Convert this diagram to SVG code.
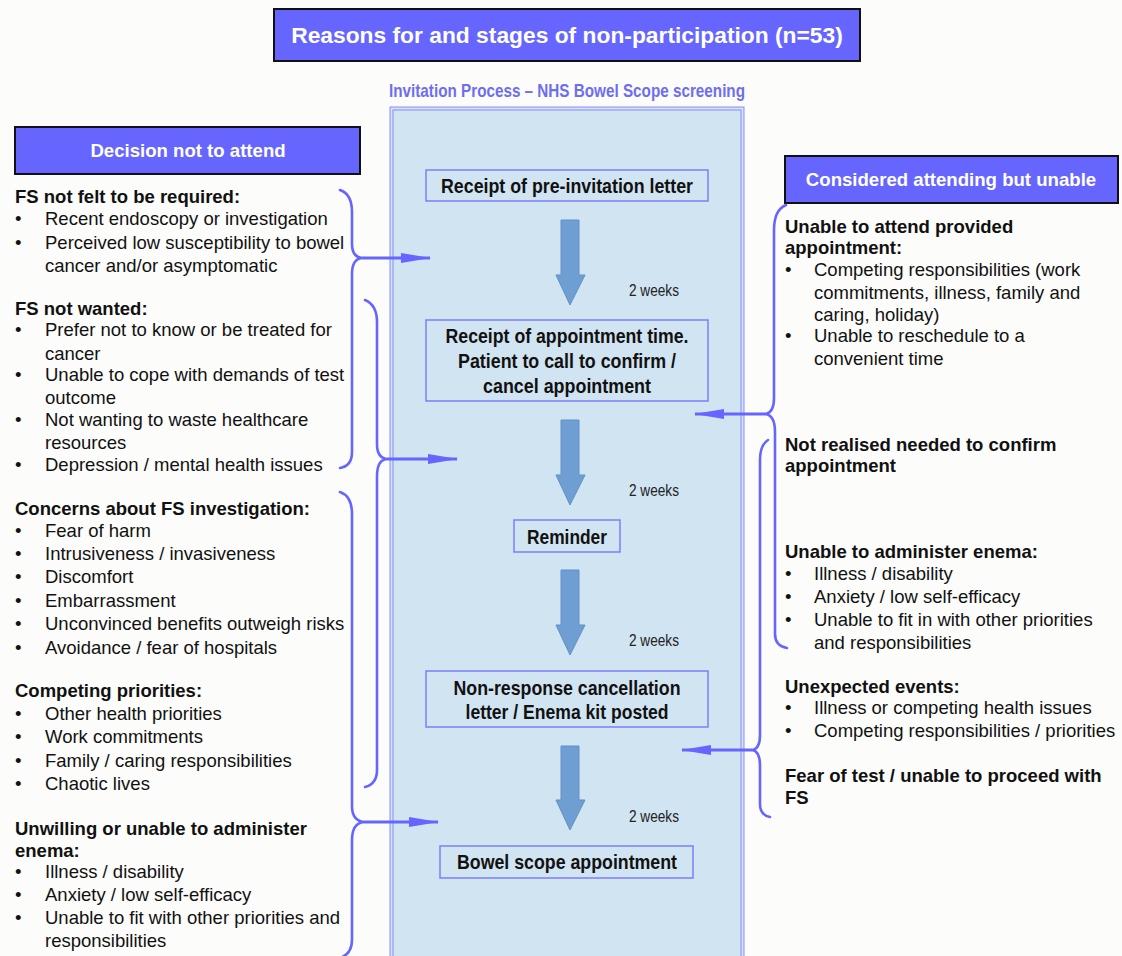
<svg xmlns="http://www.w3.org/2000/svg" width="1122" height="956" viewBox="0 0 1122 956">
<defs>
<style>
.bg{fill:#fcfcfb}
.hdr{fill:#6666ff;stroke:#111;stroke-width:2}
.hdrt{font-family:"Liberation Sans",Arial,sans-serif;font-weight:bold;fill:#fff;text-anchor:middle}
.t{font-family:"Liberation Sans",Arial,sans-serif;font-size:18.5px;fill:#111}
.b{font-weight:bold}
.node{fill:none;stroke:#7d7dff;stroke-width:1.5}
.nt{font-family:"Liberation Sans Narrow","Liberation Sans",Arial,sans-serif;font-weight:bold;font-size:21px;fill:#111;text-anchor:middle}
.wk{font-family:"Liberation Sans Narrow","Liberation Sans",Arial,sans-serif;font-size:16px;fill:#222}
.down{fill:#6f9ed3;stroke:#6090c8;stroke-width:1}
.brace{fill:none;stroke:#6666ff;stroke-width:2.6;stroke-linecap:round}
.conn{fill:none;stroke:#6666ff;stroke-width:3}
</style>
<marker id="ah" viewBox="0 0 30 10" refX="29" refY="5" markerWidth="10" markerHeight="3.4" orient="auto">
<path d="M0,0 L30,5 L0,10 z" fill="#6666ff"/>
</marker>
</defs>
<rect class="bg" x="0" y="0" width="1122" height="956"/>

<g id="title">
<rect class="hdr" x="274" y="9" width="586" height="52"/>
<text class="hdrt" x="567" y="43" font-size="22.8">Reasons for and stages of non-participation (n=53)</text>
</g>

<g id="panel">
<rect x="390" y="107" width="354" height="860" fill="#d1e4f1" stroke="#8a8aff" stroke-width="1"/>
<rect x="393" y="110" width="348" height="860" fill="none" stroke="#8a8aff" stroke-width="1"/>
<text x="567" y="97" font-family="'Liberation Sans Narrow','Liberation Sans',Arial,sans-serif" font-weight="bold" font-size="18.6" fill="#6e6ef0" text-anchor="middle" textLength="356" lengthAdjust="spacingAndGlyphs">Invitation Process – NHS Bowel Scope screening</text>
</g>

<g id="hdr-left">
<rect class="hdr" x="15" y="127" width="345" height="47"/>
<text class="hdrt" x="188" y="157" font-size="18.6">Decision not to attend</text>
</g>
<g id="hdr-right">
<rect class="hdr" x="785" y="156" width="333" height="47"/>
<text class="hdrt" x="951" y="186" font-size="18.6">Considered attending but unable</text>
</g>

<g id="n1">
<rect class="node" x="426" y="170" width="282" height="31"/>
<text class="nt" x="567" y="193" textLength="252" lengthAdjust="spacingAndGlyphs">Receipt of pre-invitation letter</text>
</g>
<g id="n2">
<rect class="node" x="426" y="320" width="282" height="81"/>
<text class="nt" x="567" y="343" textLength="243" lengthAdjust="spacingAndGlyphs">Receipt of appointment time.</text>
<text class="nt" x="567" y="368" textLength="218" lengthAdjust="spacingAndGlyphs">Patient to call to confirm /</text>
<text class="nt" x="567" y="393" textLength="168" lengthAdjust="spacingAndGlyphs">cancel appointment</text>
</g>
<g id="n3">
<rect class="node" x="514" y="520" width="106" height="32"/>
<text class="nt" x="567" y="544" textLength="80" lengthAdjust="spacingAndGlyphs">Reminder</text>
</g>
<g id="n4">
<rect class="node" x="426" y="671" width="282" height="56"/>
<text class="nt" x="567" y="695" textLength="227" lengthAdjust="spacingAndGlyphs">Non-response cancellation</text>
<text class="nt" x="567" y="719" textLength="203" lengthAdjust="spacingAndGlyphs">letter / Enema kit posted</text>
</g>
<g id="n5">
<rect class="node" x="440" y="846" width="253" height="32"/>
<text class="nt" x="567" y="869" textLength="220" lengthAdjust="spacingAndGlyphs">Bowel scope appointment</text>
</g>

<g id="flow">
<path class="down" d="M561,220 H579 V275 H585 L570,305 L556,275 H561 Z"/>
<path class="down" d="M561,420 H579 V475 H585 L570,505 L556,475 H561 Z"/>
<path class="down" d="M561,570 H579 V625 H585 L570,655 L556,625 H561 Z"/>
<path class="down" d="M561,746 H579 V800 H585 L570,830 L556,800 H561 Z"/>
<text class="wk" x="629" y="296" textLength="50" lengthAdjust="spacingAndGlyphs">2 weeks</text>
<text class="wk" x="629" y="496" textLength="50" lengthAdjust="spacingAndGlyphs">2 weeks</text>
<text class="wk" x="629" y="646" textLength="50" lengthAdjust="spacingAndGlyphs">2 weeks</text>
<text class="wk" x="629" y="822" textLength="50" lengthAdjust="spacingAndGlyphs">2 weeks</text>
</g>

<g id="left-text" class="t">
<text x="15" y="203" class="b">FS not felt to be required:</text>
<text x="15" y="225">•</text><text x="45" y="225">Recent endoscopy or investigation</text>
<text x="15" y="249">•</text><text x="45" y="249">Perceived low susceptibility to bowel</text>
<text x="45" y="272">cancer and/or asymptomatic</text>

<text x="15" y="315" class="b">FS not wanted:</text>
<text x="15" y="336">•</text><text x="45" y="336">Prefer not to know or be treated for</text>
<text x="45" y="360">cancer</text>
<text x="15" y="381">•</text><text x="45" y="381">Unable to cope with demands of test</text>
<text x="45" y="404">outcome</text>
<text x="15" y="426">•</text><text x="45" y="426">Not wanting to waste healthcare</text>
<text x="45" y="449">resources</text>
<text x="15" y="471">•</text><text x="45" y="471">Depression / mental health issues</text>

<text x="15" y="515" class="b">Concerns about FS investigation:</text>
<text x="15" y="537">•</text><text x="45" y="537">Fear of harm</text>
<text x="15" y="560">•</text><text x="45" y="560">Intrusiveness / invasiveness</text>
<text x="15" y="583">•</text><text x="45" y="583">Discomfort</text>
<text x="15" y="607">•</text><text x="45" y="607">Embarrassment</text>
<text x="15" y="630">•</text><text x="45" y="630">Unconvinced benefits outweigh risks</text>
<text x="15" y="654">•</text><text x="45" y="654">Avoidance / fear of hospitals</text>

<text x="15" y="697" class="b">Competing priorities:</text>
<text x="15" y="720">•</text><text x="45" y="720">Other health priorities</text>
<text x="15" y="743">•</text><text x="45" y="743">Work commitments</text>
<text x="15" y="767">•</text><text x="45" y="767">Family / caring responsibilities</text>
<text x="15" y="790">•</text><text x="45" y="790">Chaotic lives</text>

<text x="15" y="835" class="b">Unwilling or unable to administer</text>
<text x="15" y="857" class="b">enema:</text>
<text x="15" y="878">•</text><text x="45" y="878">Illness / disability</text>
<text x="15" y="901">•</text><text x="45" y="901">Anxiety / low self-efficacy</text>
<text x="15" y="924">•</text><text x="45" y="924">Unable to fit with other priorities and</text>
<text x="45" y="947">responsibilities</text>
</g>

<g id="right-text" class="t">
<text x="785" y="233" class="b">Unable to attend provided</text>
<text x="785" y="254" class="b">appointment:</text>
<text x="785" y="276">•</text><text x="814" y="276">Competing responsibilities (work</text>
<text x="814" y="299">commitments, illness, family and</text>
<text x="814" y="321">caring, holiday)</text>
<text x="785" y="342">•</text><text x="814" y="342">Unable to reschedule to a</text>
<text x="814" y="365">convenient time</text>

<text x="785" y="451" class="b">Not realised needed to confirm</text>
<text x="785" y="472" class="b">appointment</text>

<text x="785" y="558" class="b">Unable to administer enema:</text>
<text x="785" y="580">•</text><text x="814" y="580">Illness / disability</text>
<text x="785" y="603">•</text><text x="814" y="603">Anxiety / low self-efficacy</text>
<text x="785" y="626">•</text><text x="814" y="626">Unable to fit in with other priorities</text>
<text x="814" y="649">and responsibilities</text>

<text x="785" y="693" class="b">Unexpected events:</text>
<text x="785" y="714">•</text><text x="814" y="714">Illness or competing health issues</text>
<text x="785" y="737">•</text><text x="814" y="737">Competing responsibilities / priorities</text>

<text x="785" y="782" class="b">Fear of test / unable to proceed with</text>
<text x="785" y="804" class="b">FS</text>
</g>

<g id="connectors">
<path class="brace" d="M340,190 Q352,194 352,212 L352,244 Q352,257 362,258 Q352,259 352,274 L352,452 Q352,466 340,468"/>
<path class="brace" d="M365,300 Q377,305 377,322 L377,444 Q377,458 387,459 Q377,460 377,476 L377,770 Q377,784 365,787"/>
<path class="brace" d="M340,492 Q352,496 352,514 L352,806 Q352,820 363,822 Q352,824 352,840 L352,940 Q352,954 340,958"/>
<path class="brace" d="M786,205 Q774,210 774,230 L774,398 Q774,412 766,414 Q775,416 775,432 L775,634 Q775,646 787,648"/>
<path class="brace" d="M768,440 Q760,445 760,460 L760,735 Q760,749 752,750 Q760,751 760,766 L760,804 Q760,815 770,817"/>
<path class="conn" d="M362,258 H430" marker-end="url(#ah)"/>
<path class="conn" d="M387,459 H457" marker-end="url(#ah)"/>
<path class="conn" d="M363,822 H438" marker-end="url(#ah)"/>
<path class="conn" d="M766,414 H695" marker-end="url(#ah)"/>
<path class="conn" d="M752,750 H682" marker-end="url(#ah)"/>
</g>
</svg>
